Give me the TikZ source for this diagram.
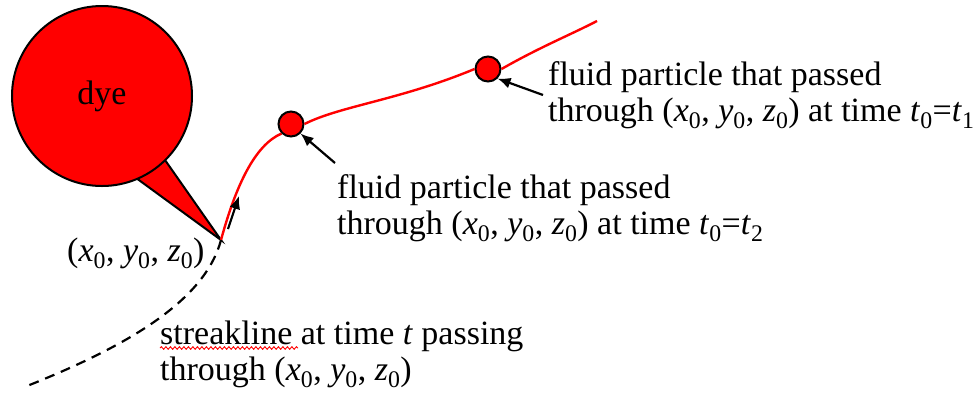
\documentclass[tikz,border=0pt]{standalone}
\usepackage{fontspec}
\setmainfont{Liberation Serif}
\usetikzlibrary{arrows.meta,decorations.pathmorphing}
\newcommand{\ptxyz}{(\textit{x}\textsubscript{0}, \textit{y}\textsubscript{0}, \textit{z}\textsubscript{0})}
\begin{document}
\begin{tikzpicture}[x=1pt,y=-1pt,
  lbl/.style={anchor=west,inner sep=0pt,align=left,font=\fontsize{34}{36}\selectfont},
  particle/.style={circle,fill=red,draw=black,line width=2pt,minimum size=25pt,inner sep=0pt},
  pointer/.style={-{Latex[length=13pt,width=11pt]},line width=2.2pt,black},
  streak/.style={red,line width=2.4pt}]
\useasboundingbox (0,0) rectangle (974,392);
% dye blob
\coordinate (tip) at (221,240);
\draw[fill=red,line width=2pt,line join=miter] (132,175) -- (tip) -- (165,160) -- cycle;
\node[circle,fill=red,draw=black,line width=2pt,minimum size=180pt,inner sep=0pt,
  font=\fontsize{34}{36}\selectfont] (dye) at (102,96) {dye};
% particles
\node[particle] (p2) at (291,124) {};
\node[particle] (p1) at (488,69) {};
\coordinate (cend) at (597,21);
\coordinate (dend) at (27,386);
% streakline (red)
\draw[streak] (tip) .. controls (236,185) and (255,145) .. (p2.south west);
\draw[streak] (p2.east) .. controls (340,106) and (400,100) .. (p1.west);
\draw[streak] (p1.east) .. controls (540,47) and (570,35) .. (cend);
% black arrow along the streakline
\coordinate (ab) at (228,229);
\coordinate (ah) at (239,196);
\draw[-{Latex[length=13pt,width=11pt]},line width=2.2pt] (ab) -- (ah);
% dashed past path
\draw[line width=2.2pt,dash pattern=on 10pt off 7pt] (tip) .. controls (205,300) and (130,345) .. (dend);
% labels
\node[lbl] (l1) at (548,95) {fluid particle that passed\\through \ptxyz{} at time \textit{t}\textsubscript{0}=\textit{t}\textsubscript{1}};
\node[lbl] (l2) at (337,208) {fluid particle that passed\\through \ptxyz{} at time \textit{t}\textsubscript{0}=\textit{t}\textsubscript{2}};
\node[lbl] (l0) at (67,253) {\ptxyz};
\node[lbl] (l3) at (160,354) {streakline at time \textit{t} passing\\through \ptxyz};
\draw[red,line width=0.9pt,decorate,decoration={snake,amplitude=1.3pt,segment length=4.5pt}] (160,348) -- (298,348);
% pointers
\coordinate (t1) at (543,95);
\coordinate (t2) at (335,163);
\draw[pointer] (t1) -- (p1.south east);
\draw[pointer] (t2) -- (p2.south east);
\end{tikzpicture}
\end{document}
